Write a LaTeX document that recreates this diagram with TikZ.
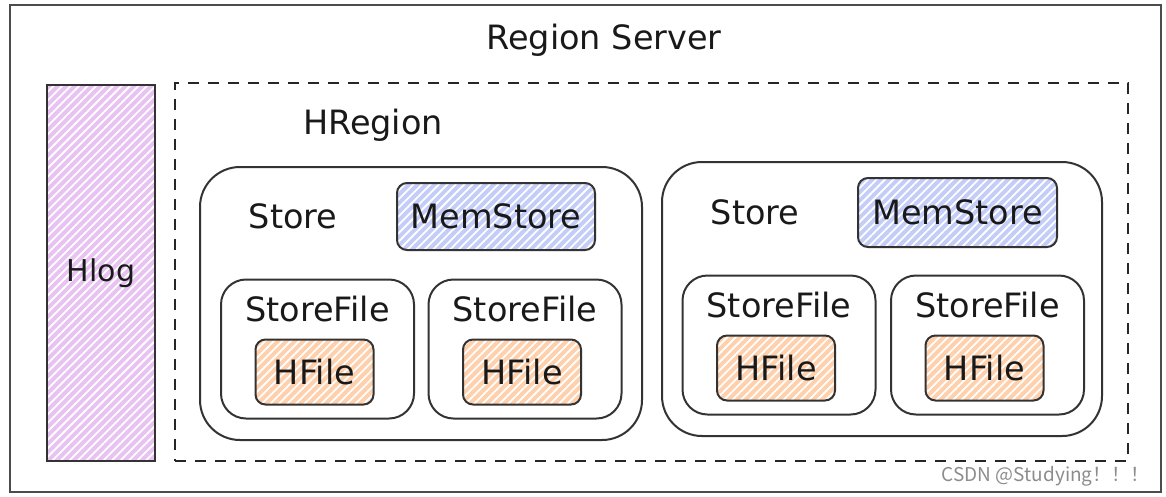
\documentclass[tikz,border=0pt]{standalone}
\usepackage{fontspec}
\setmainfont{DejaVu Sans}
\newfontfamily\cjk{Noto Sans CJK SC}
\usetikzlibrary{patterns.meta}
\definecolor{hlogcol}{HTML}{E8C3F2}
\definecolor{memcol}{HTML}{C4CCF8}
\definecolor{hfilecol}{HTML}{FFD0AC}

\begin{document}
\begin{tikzpicture}[x=1pt, y=-1pt, line width=2pt,
    schrift/.style={font=\fontsize{33.5}{40}\selectfont, text=black!90},
    kasten/.style={draw=black!80, inner sep=0pt, rounded corners=#1},
    schraffur/.style={draw=black!80, inner sep=0pt, rounded corners=10pt,
        schrift, preaction={fill=#1},
        pattern={Lines[angle=45, distance=6pt, line width=1.8pt]}, pattern color=white}]
    \useasboundingbox (0,0) rectangle (1166,496);

    % Rahmen.
    \node[draw=black!70, line width=2.8pt, inner sep=0pt, minimum width=1151, minimum height=487] (server) at (585.5,248.5) {};
    \node[draw=black!85, line width=2.2pt, dash pattern=on 11pt off 9pt, inner sep=0pt,
        minimum width=953, minimum height=378] (region) at (651.5,272) {};

    % Hlog.
    \node[schraffur=hlogcol, rounded corners=0pt, minimum width=108, minimum height=376,
        font=\fontsize{30}{36}\selectfont] (hlog) at (101,273) {Hlog};

    % Stores.
    \node[kasten=40pt, minimum width=442, minimum height=273] (store1) at (421,303.5) {};
    \node[kasten=40pt, minimum width=440, minimum height=274] (store2) at (882,299) {};
    \node[schraffur=memcol, minimum width=198, minimum height=67] (mem1) at (496,216.5) {MemStore};
    \node[schraffur=memcol, minimum width=199, minimum height=69] (mem2) at (957.5,212.5) {MemStore};

    % StoreFiles.
    \foreach \n/\x/\y in {1/317.5/349, 2/525/349, 3/779/345, 4/987.5/345}
    {
        \node[kasten=25pt, minimum width=193, minimum height=139] (sf\n) at (\x,\y) {};
        \node[schrift] (sft\n) at ([yshift=-31pt]sf\n.north) {StoreFile};
        \node[schraffur=hfilecol, minimum width=118, minimum height=65] (hf\n) at (\x-3,\y+23) {HFile};
    }

    % Beschriftung.
    \node[schrift] (title) at (604,40) {Region Server};
    \node[schrift] (hregion) at (373,125) {HRegion};
    \node[schrift] (st1) at (293,216) {Store};
    \node[schrift] (st2) at (755,212) {Store};
    \node[text=black!45, font=\cjk\fontsize{19}{23}\selectfont, anchor=east] (csdn) at (1154,476) {CSDN @Studying！！！};
\end{tikzpicture}
\end{document}
